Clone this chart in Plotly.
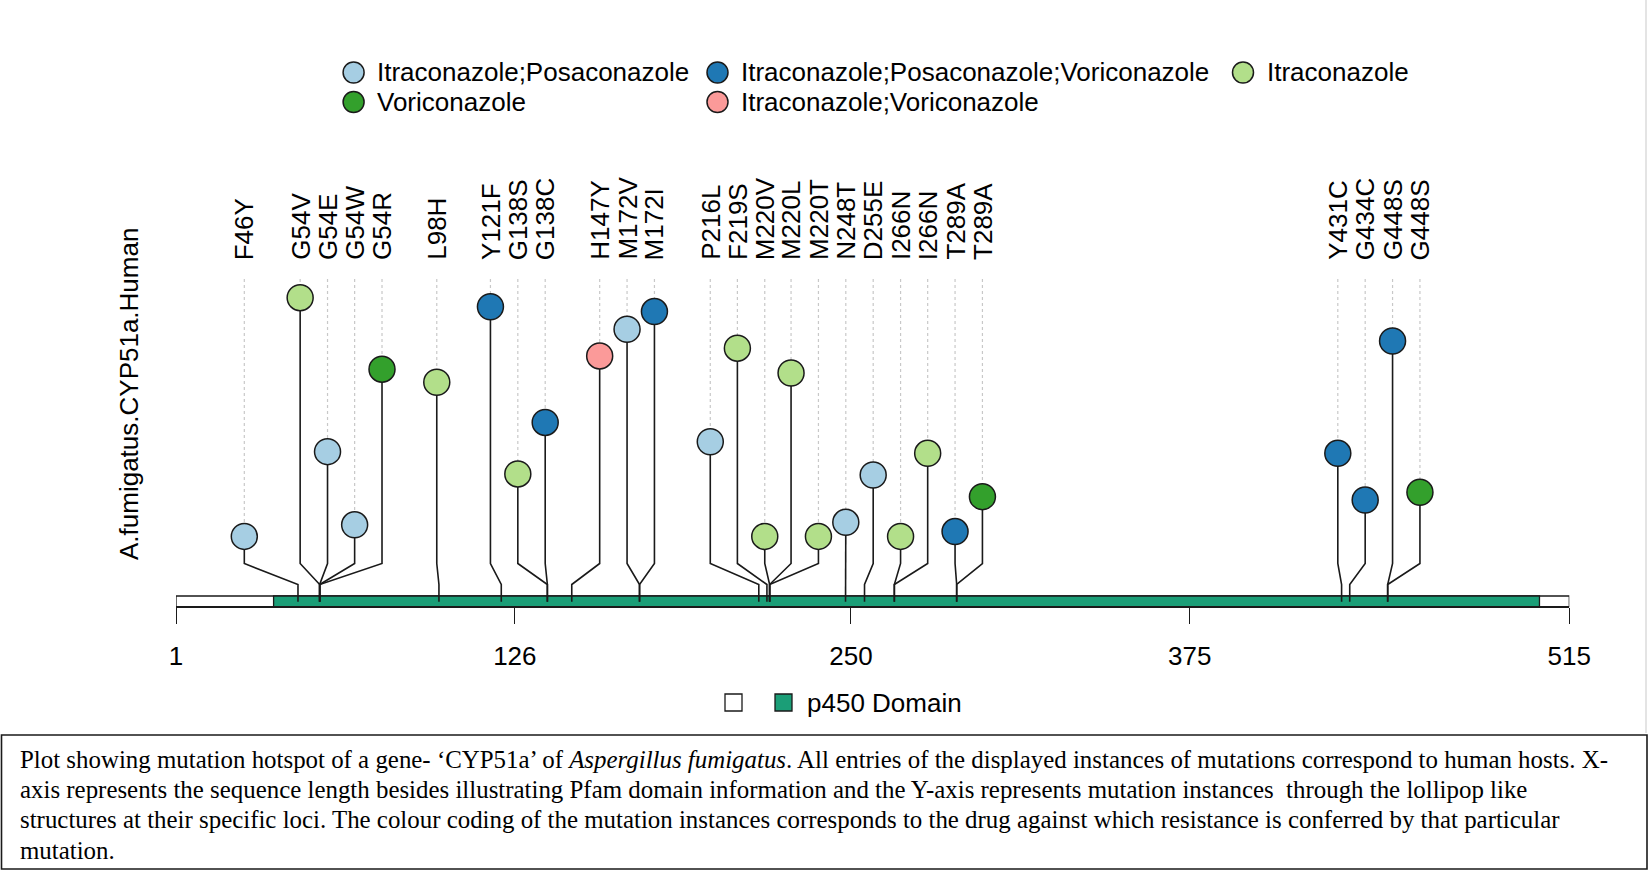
import plotly.graph_objects as go

W, H = 1649, 879

# ---------------- data ----------------
IP = "Itraconazole;Posaconazole"
IPV = "Itraconazole;Posaconazole;Voriconazole"
I_ = "Itraconazole"
V_ = "Voriconazole"
IV = "Itraconazole;Voriconazole"

mutations = ["F46Y", "G54V", "G54E", "G54W", "G54R", "L98H", "Y121F", "G138S", "G138C",
             "H147Y", "M172V", "M172I", "P216L", "F219S", "M220V", "M220L", "M220T",
             "N248T", "D255E", "I266N", "I266N", "T289A", "T289A", "Y431C", "G434C",
             "G448S", "G448S"]
positions = [46, 54, 54, 54, 54, 98, 121, 138, 138, 147, 172, 172, 216, 219, 220, 220, 220,
             248, 255, 266, 266, 289, 289, 431, 434, 448, 448]
label_positions = [26.2, 46.8, 56.9, 66.9, 77.0, 97.2, 117.0, 127.1, 137.2, 157.3, 167.4,
                   177.5, 198.1, 208.1, 218.2, 227.9, 238.0, 248.1, 258.2, 268.3, 278.3,
                   288.4, 298.5, 429.6, 439.7, 449.8, 459.9]
scores = [1.0, 12.35, 5.03, 1.55, 8.95, 8.33, 11.92, 3.97, 6.42, 9.58, 10.85, 11.69, 5.5,
          9.95, 1.0, 8.77, 1.0, 1.67, 3.92, 1.0, 4.95, 1.23, 2.89, 4.95, 2.73, 10.29, 3.1]
drugs = [IP, I_, IP, IP, V_, I_, IPV, I_, IPV, IV, IP, IPV, IP, I_, I_, I_, I_, IP, IP,
         I_, I_, IPV, V_, IPV, IPV, IPV, V_]

drug_order = [IP, IPV, I_, V_, IV]
drug_colors = {IP: "#A6CEE3", IPV: "#1F78B4", I_: "#B2DF8A", V_: "#33A02C", IV: "#FB9A99"}

seq_start, seq_end = 1, 515
domain_name = "p450 Domain"
domain_start, domain_end = 37, 504
domain_color = "#1B9E77"
tick_values = [1, 126, 250, 375, 515]
y_title = "A.fumigatus.CYP51a.Human"

caption_lines = [
    "Plot showing mutation hotspot of a gene- \u2018CYP51a\u2019 of <i>Aspergillus fumigatus</i>. All entries of the displayed instances of mutations correspond to human hosts. X-",
    "axis represents the sequence length besides illustrating Pfam domain information and the Y-axis represents mutation instances  through the lollipop like",
    "structures at their specific loci. The colour coding of the mutation instances corresponds to the drug against which resistance is conferred by that particular",
    "mutation.",
]

# ---------------- layout geometry ----------------
SANS = "Liberation Sans, Arial, Helvetica, sans-serif"
SERIF = "Liberation Serif, Times New Roman, serif"
PX_PER_UNIT = 21.03
BASE_PX = 536.4          # page row of score == 1


def yv(px):
    """page pixel row -> y units"""
    return 1 + (BASE_PX - px) / PX_PER_UNIT


Y_MIN, Y_MAX = yv(H), yv(0)
LABEL_Y = yv(262)
DOT_TOP = yv(279)
BEND_TOP = yv(563.5)
BEND_BOT = yv(584.5)
STEM_END = yv(601.7)
BAR_TOP = yv(596)
BAR_BOT = yv(606.7)

fig = go.Figure()

# dotted guide lines from label to head
dx, dy = [], []
for lp, s in zip(label_positions, scores):
    dx += [lp, lp, None]
    dy += [DOT_TOP, s, None]
fig.add_trace(go.Scatter(x=dx, y=dy, mode="lines", hoverinfo="skip", showlegend=False,
                         line=dict(color="#c8c8c8", width=1.2, dash="dot")))

# lollipop stems (head -> bend -> true position)
sx, sy = [], []
for lp, p, s in zip(label_positions, positions, scores):
    sx += [lp, lp, p, p, None]
    sy += [s, BEND_TOP, BEND_BOT, STEM_END, None]
fig.add_trace(go.Scatter(x=sx, y=sy, mode="lines", hoverinfo="skip", showlegend=False,
                         line=dict(color="#1a1a1a", width=1.6)))

# lollipop heads, one trace per drug class
for d in drug_order:
    idx = [i for i, dd in enumerate(drugs) if dd == d]
    fig.add_trace(go.Scatter(
        x=[label_positions[i] for i in idx], y=[scores[i] for i in idx],
        mode="markers", name=d, showlegend=False,
        text=[mutations[i] for i in idx],
        marker=dict(size=26, color=drug_colors[d], line=dict(color="#1a1a1a", width=1.5))))

shapes = []
# sequence bar and Pfam domain
shapes.append(dict(type="rect", xref="x", yref="y", x0=seq_start, x1=seq_end, y0=BAR_BOT, y1=BAR_TOP,
                   fillcolor="white", line=dict(color="#1a1a1a", width=1.3), layer="below"))
shapes.append(dict(type="rect", xref="x", yref="y", x0=domain_start, x1=domain_end, y0=BAR_BOT, y1=BAR_TOP,
                   fillcolor=domain_color, line=dict(color="#1a1a1a", width=1.3), layer="below"))

annotations = []
# mutation labels
for lp, m in zip(label_positions, mutations):
    annotations.append(dict(x=lp, y=LABEL_Y, xref="x", yref="y", text=m, showarrow=False,
                            textangle=-90, xanchor="center", yanchor="bottom",
                            font=dict(family=SANS, size=26, color="black")))

# y title
annotations.append(dict(x=129 / W, y=1 - 394 / H, xref="paper", yref="paper", text=y_title,
                        showarrow=False, textangle=-90, xanchor="center", yanchor="middle",
                        font=dict(family=SANS, size=26, color="black")))

# drug legend
leg_slots = {IP: (353.6, 72.5), IPV: (717.5, 72.5), I_: (1243, 72.5), V_: (353.6, 102), IV: (717.5, 102)}
for d in drug_order:
    cx, cy = leg_slots[d]
    shapes.append(dict(type="circle", xref="paper", yref="paper", xsizemode="pixel", ysizemode="pixel",
                       xanchor=cx / W, yanchor=1 - cy / H, x0=-10.5, x1=10.5, y0=-10.5, y1=10.5,
                       fillcolor=drug_colors[d], line=dict(color="#1a1a1a", width=1.5)))
    annotations.append(dict(x=(cx + 21.5) / W, y=1 - cy / H, xref="paper", yref="paper", text=d,
                            showarrow=False, xanchor="left", yanchor="middle",
                            font=dict(family=SANS, size=26, color="black")))

# domain legend
for cx, col in [(733.5, "white"), (783.5, domain_color)]:
    shapes.append(dict(type="rect", xref="paper", yref="paper", xsizemode="pixel", ysizemode="pixel",
                       xanchor=cx / W, yanchor=1 - 702.5 / H, x0=-8.5, x1=8.5, y0=-8.5, y1=8.5,
                       fillcolor=col, line=dict(color="#1a1a1a", width=1.3)))
annotations.append(dict(x=805 / W, y=1 - 702.5 / H, xref="paper", yref="paper", text=domain_name,
                        showarrow=False, xanchor="left", yanchor="middle",
                        font=dict(family=SANS, size=26, color="black")))

# faint right border of the plot image
shapes.append(dict(type="line", xref="paper", yref="paper", x0=1646 / W, x1=1646 / W, y0=1 - 733 / H, y1=1,
                   line=dict(color="#e4e4e4", width=2)))
# caption box and text
shapes.append(dict(type="rect", xref="paper", yref="paper", x0=1.5 / W, x1=1647 / W,
                   y0=1 - 869 / H, y1=1 - 735 / H, line=dict(color="#1a1a1a", width=1.6)))
for k, line in enumerate(caption_lines):
    cy = [759.5, 789.5, 819.5, 850][k]
    annotations.append(dict(x=18 / W, y=1 - cy / H, xref="paper", yref="paper", text=line,
                            showarrow=False, xanchor="left", yanchor="middle",
                            font=dict(family=SERIF, size=24.9, color="black")))

fig.update_layout(
    width=W, height=H, autosize=False,
    margin=dict(l=0, r=0, t=0, b=0, pad=0),
    paper_bgcolor="white", plot_bgcolor="rgba(0,0,0,0)",
    showlegend=False,
    xaxis=dict(domain=[176 / W, 1569.3 / W], range=[seq_start, seq_end], anchor="free",
               position=1 - 607 / H, showline=True, linecolor="#1a1a1a", linewidth=1.4,
               ticks="outside", ticklen=16, tickwidth=1.4, tickcolor="#1a1a1a",
               tickmode="array", tickvals=tick_values, ticktext=[str(t) for t in tick_values],
               tickfont=dict(family=SANS, size=26, color="black"), ticklabelstandoff=10,
               showgrid=False, zeroline=False, fixedrange=True, automargin=False),
    yaxis=dict(domain=[0, 1], range=[Y_MIN, Y_MAX], visible=False, showgrid=False,
               zeroline=False, fixedrange=True, automargin=False),
    shapes=shapes, annotations=annotations,
)

fig.write_html("out.html", config={"displayModeBar": False},
               post_script="document.body.style.margin='0';")
